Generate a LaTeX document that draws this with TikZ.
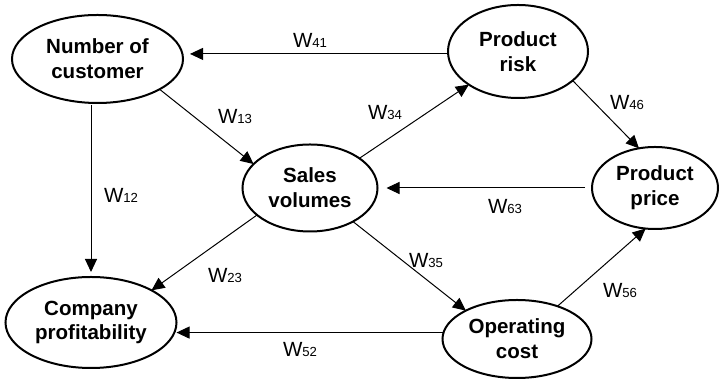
\documentclass[tikz,border=0pt]{standalone}
\usepackage{fontspec}
\setmainfont{Liberation Sans}
\usepackage{tikz}
\usetikzlibrary{arrows.meta, shapes.geometric}
\tikzset{
    concept/.style={ellipse, draw=black, line width=1bp, inner sep=0pt, outer sep=0pt, align=center, font=\fontsize{10.3}{12.5}\selectfont\bfseries},
    link/.style={->, line width=0.5bp},
    wLabel/.style={inner sep=0pt, font=\fontsize{10.3}{12}\selectfont}
}
\newcommand{\wsub}[1]{W{\fontsize{6.6}{7}\selectfont #1}}

\begin{document}
\begin{tikzpicture}[x=0.5bp, y=-0.5bp, >={Triangle[length=6.5bp, width=6bp]}]
    \useasboundingbox (0,0) rectangle (720,379);
    % --- concepts ---
    \node[concept, minimum width=85.5bp, minimum height=44bp]   (nc) at (97.5,59)  {Number of\\customer};
    \node[concept, minimum width=70bp,   minimum height=46.5bp] (pr) at (518,51.5) {Product\\risk};
    \node[concept, minimum width=67.5bp, minimum height=43.5bp] (sv) at (310,188)  {Sales\\volumes};
    \node[concept, minimum width=63bp,   minimum height=41bp]   (pp) at (655,188)  {Product\\price};
    \node[concept, minimum width=85.5bp, minimum height=45.5bp] (cp) at (91,322.5) {Company\\profitability};
    \node[concept, minimum width=74.5bp, minimum height=39bp]   (oc) at (517,339)  {Operating\\cost};
    % --- weighted links ---
    \draw[link, shorten >=3.5bp] (pr.182) -- (pr.182 -| nc.east);
    \draw[link] (nc.-26) -- (sv.157);
    \draw[link, shorten <=1bp, shorten >=2.5bp] (cp.north |- nc.south) -- (cp.north);
    \draw[link] (sv.31) -- (pr.214);
    \draw[link] (pr.-28) -- (pp.112);
    \draw[link, shorten <=3.5bp, shorten >=4.5bp] (pp.west) -- (sv.east);
    \draw[link] (sv.207) -- (cp.28);
    \draw[link] (sv.-38) -- (oc.151);
    \draw[link] (oc.39) -- (pp.-103);
    \draw[link] (oc.175) -- (oc.175 -| cp.east);
    % --- weights ---
    \node[wLabel] (w41) at (310,40)  {\wsub{41}};
    \node[wLabel] (w13) at (235,117) {\wsub{13}};
    \node[wLabel] (w12) at (121,195) {\wsub{12}};
    \node[wLabel] (w34) at (385,113) {\wsub{34}};
    \node[wLabel] (w46) at (627,103) {\wsub{46}};
    \node[wLabel] (w63) at (505,207) {\wsub{63}};
    \node[wLabel] (w23) at (225,276) {\wsub{23}};
    \node[wLabel] (w35) at (426,261) {\wsub{35}};
    \node[wLabel] (w56) at (620,291) {\wsub{56}};
    \node[wLabel] (w52) at (300,350) {\wsub{52}};
\end{tikzpicture}
\end{document}
